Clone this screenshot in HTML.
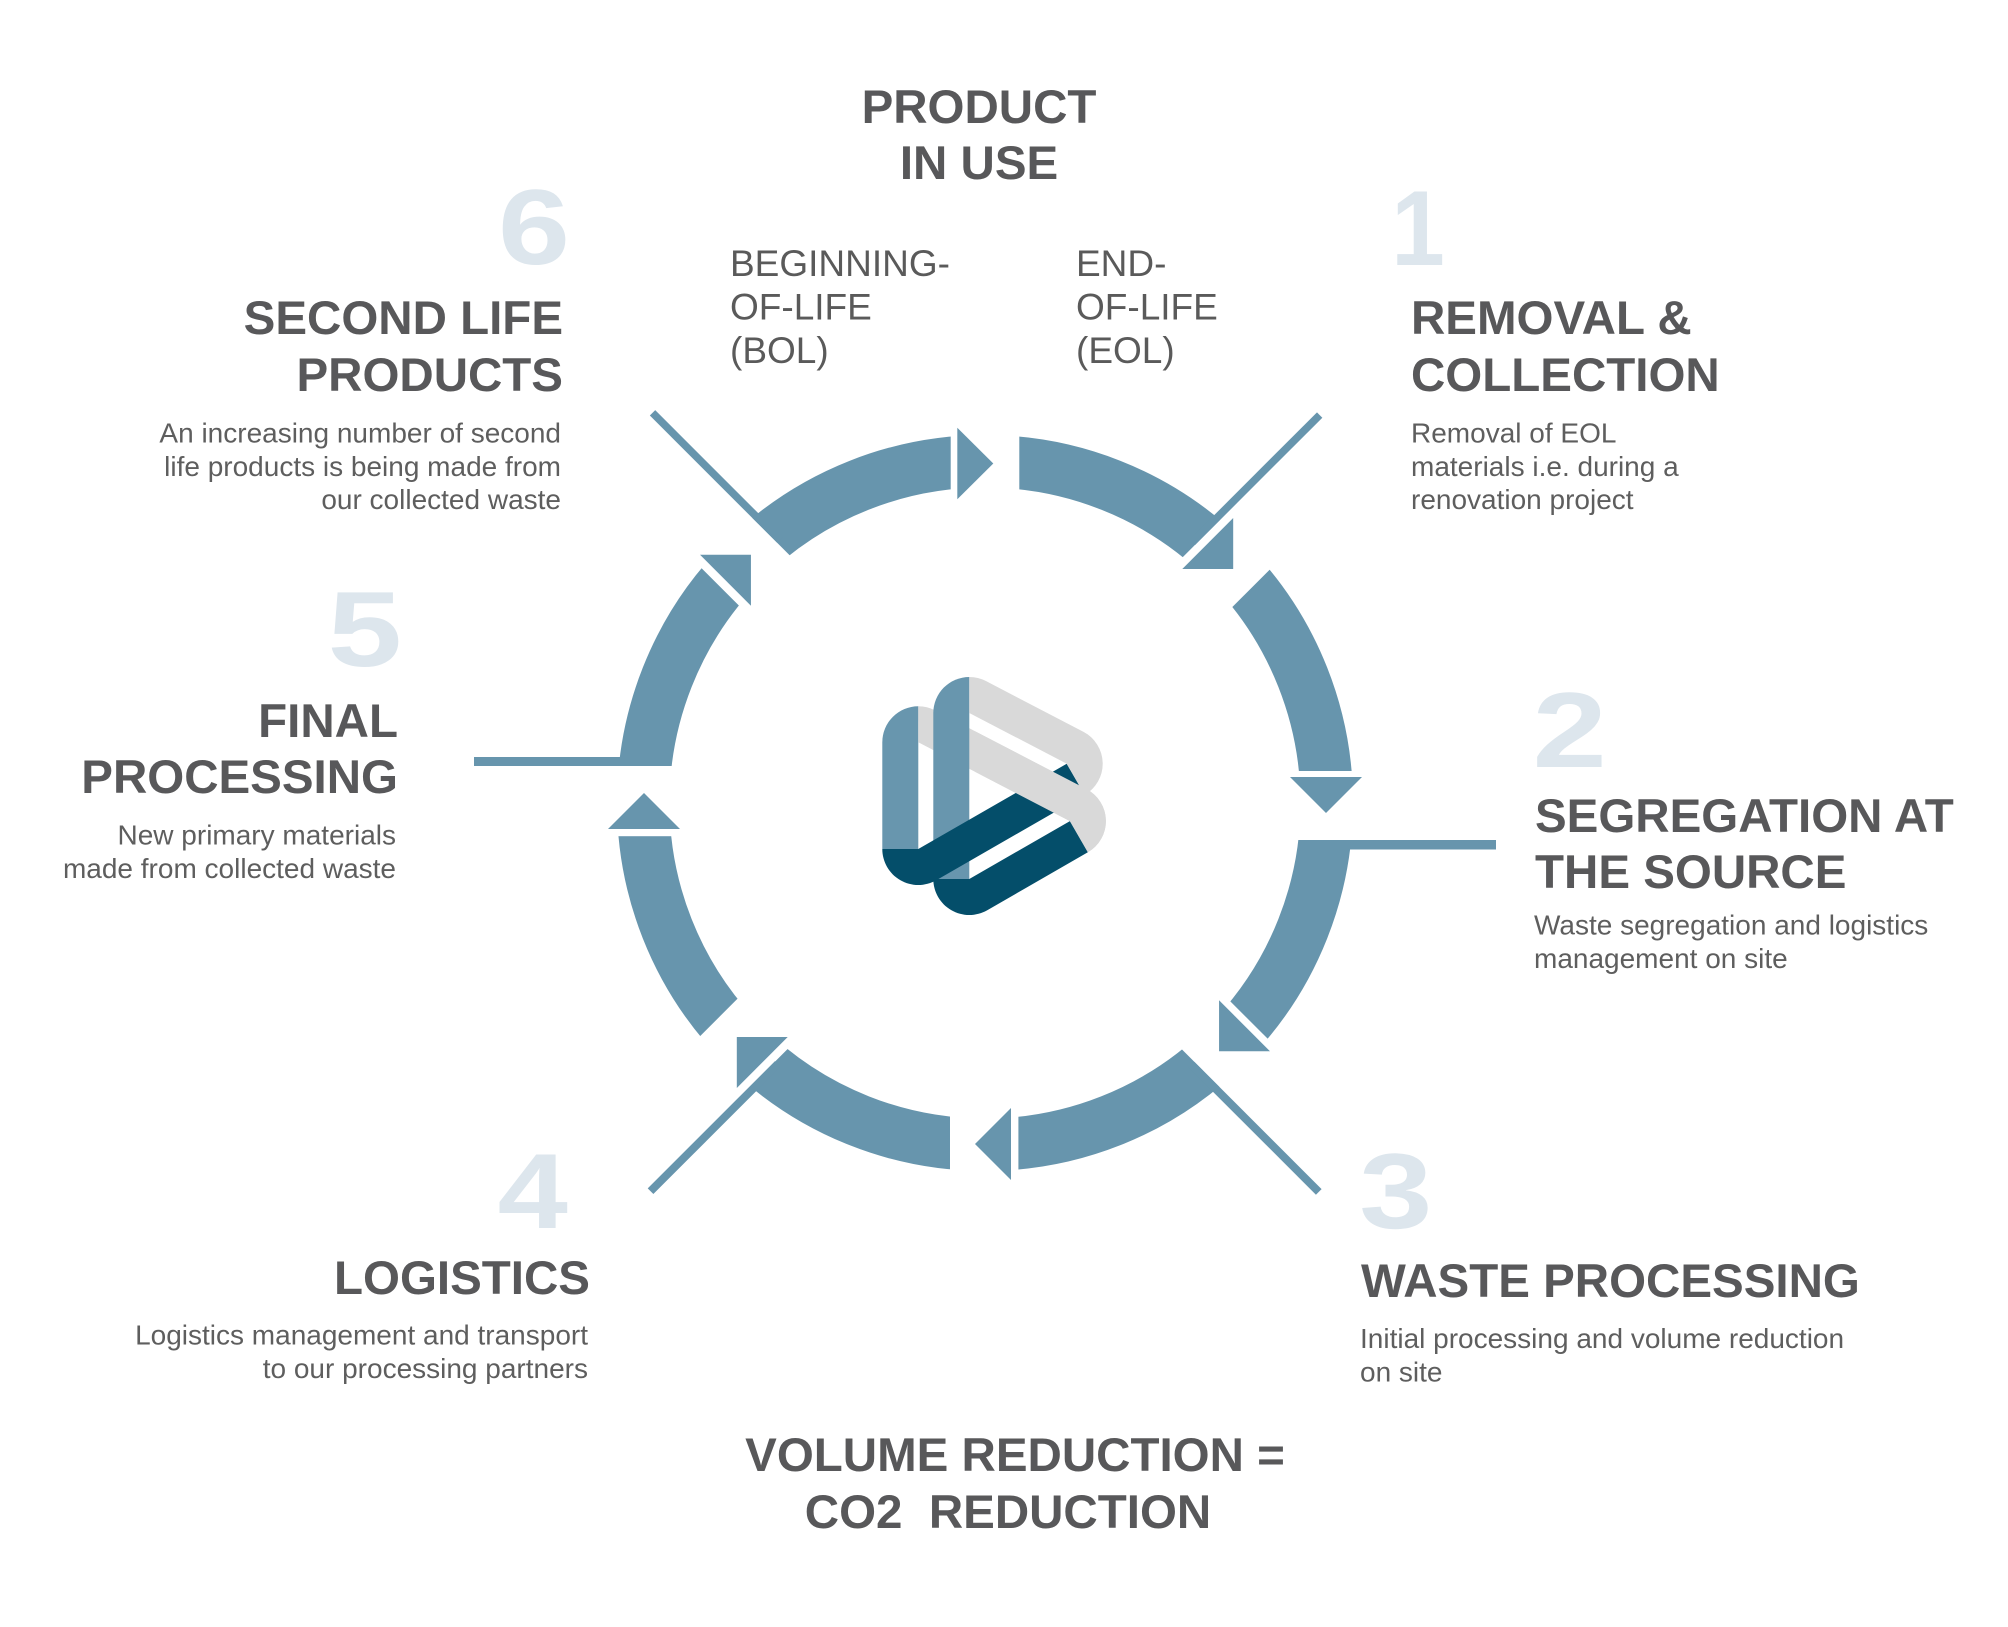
<!DOCTYPE html>
<html>
<head>
<meta charset="utf-8">
<style>
  html,body{margin:0;padding:0;background:#ffffff;}
  svg{display:block;}
  .h{font-family:"Liberation Sans",Arial,sans-serif;font-weight:bold;font-size:47.5px;fill:#58585a;}
  .d{font-family:"Liberation Sans",Arial,sans-serif;font-size:28px;fill:#5e5e5e;}
  .b{font-family:"Liberation Sans",Arial,sans-serif;font-size:37px;fill:#5a5a5a;}
  .n{font-family:"Liberation Sans",Arial,sans-serif;font-weight:bold;font-size:107px;fill:#dde6ed;}
</style>
</head>
<body>
<svg width="2008" height="1627" viewBox="0 0 2008 1627" xmlns="http://www.w3.org/2000/svg">
  <defs>
    <mask id="ringmask" maskUnits="userSpaceOnUse" x="0" y="0" width="2008" height="1627">
      <rect x="0" y="0" width="2008" height="1627" fill="#fff"/>
      <g fill="#000">
        <rect x="950.7" y="400" width="68.6" height="110" transform="rotate(0 985 803)"/>
        <rect x="951" y="400" width="70.3" height="110" transform="rotate(45 985 803)"/>
        <rect x="953" y="400" width="69" height="110" transform="rotate(90 985 803)"/>
        <rect x="951.8" y="400" width="68.2" height="110" transform="rotate(135 985 803)"/>
        <rect x="951.6" y="400" width="68.4" height="110" transform="rotate(180 985 803)"/>
        <rect x="950.6" y="400" width="71" height="110" transform="rotate(225 985 803)"/>
        <rect x="951.8" y="400" width="70.2" height="110" transform="rotate(270 985 803)"/>
        <rect x="950.6" y="400" width="71.4" height="110" transform="rotate(315 985 803)"/>
      </g>
    </mask>
    <clipPath id="cx975"><rect x="975" y="600" width="300" height="400"/></clipPath>
  </defs>

  <!-- ring -->
  <circle cx="985" cy="803" r="341.75" fill="none" stroke="#6795ad" stroke-width="52.5" mask="url(#ringmask)"/>

  <!-- arrowheads -->
  <g fill="#6795ad">
    <polygon points="957.3,427.7 957.3,499.3 993.3,463.5"/>
    <polygon points="959,426 959,498 995,462" transform="rotate(45 985 803)"/>
    <polygon points="959,426 959,498 995,462" transform="rotate(90 985 803)"/>
    <polygon points="959,426 959,498 995,462" transform="rotate(135 985 803)"/>
    <polygon points="959,426 959,498 995,462" transform="rotate(180 985 803)"/>
    <polygon points="959,426 959,498 995,462" transform="rotate(225 985 803)"/>
    <polygon points="959,426 959,498 995,462" transform="rotate(270 985 803)"/>
    <polygon points="959,426 959,498 995,462" transform="rotate(315 985 803)"/>
  </g>

  <!-- connector lines -->
  <g fill="#6795ad">
    <rect x="943.5" y="292" width="7.6" height="180" transform="rotate(45 985 803)"/>
    <rect x="1022" y="292" width="9.5" height="180" transform="rotate(90 985 803)"/>
    <rect x="1020" y="292" width="8" height="180" transform="rotate(135 985 803)"/>
    <rect x="943" y="292" width="8" height="180" transform="rotate(225 985 803)"/>
    <rect x="1022" y="292" width="9" height="180" transform="rotate(270 985 803)"/>
    <rect x="1022" y="292" width="7.6" height="180" transform="rotate(315 985 803)"/>
  </g>

  <!-- center logo (ribbon) -->
  <g>
    <!-- blue T1 -->
    <path fill="#6896ae" d="M 882.3,849 L 882.3,742.3 A 36 36 0 0 1 918.3,706.3 L 918.3,849 Z"/>
    <!-- gray T1 -->
    <path fill="#d9d9d9" d="M 918.3,742.3 L 918.3,706.3 A 36 36 0 0 1 934.91,710.36 L 1086.51,789.16 A 36 36 0 0 1 1087.85,852.31 L 1069.9,821.1 Z"/>
    <!-- blue T2 -->
    <path fill="#6896ae" d="M 933.3,879 L 933.3,713 A 36 36 0 0 1 969.3,677 L 969.3,879 Z"/>
    <!-- dark T1 -->
    <path fill="#044e6a" d="M 1066.7,763.7 L 918.3,849 L 882.3,849 A 36 36 0 0 0 936.25,880.21 L 1084.65,794.91 Z"/>
    <!-- dark T2 -->
    <path fill="#044e6a" d="M 1069.9,821.1 L 969.3,879 L 933.3,879 A 36 36 0 0 0 987.25,910.21 L 1087.85,852.31 Z"/>
    <!-- gray T1 right part on top -->
    <path fill="#d9d9d9" clip-path="url(#cx975)" d="M 918.3,742.3 L 918.3,706.3 A 36 36 0 0 1 934.91,710.36 L 1086.51,789.16 A 36 36 0 0 1 1087.85,852.31 L 1069.9,821.1 Z"/>
    <!-- gray T2 -->
    <path fill="#d9d9d9" d="M 969.3,713 L 969.3,677 A 36 36 0 0 1 985.91,681.06 L 1083.31,731.76 A 36 36 0 0 1 1084.65,794.91 L 1066.7,763.7 Z"/>
  </g>

  <!-- top title -->
  <text class="h" x="979" y="123" text-anchor="middle">PRODUCT</text>
  <text class="h" x="979" y="179" text-anchor="middle">IN USE</text>

  <text class="b" x="730" y="276">BEGINNING-</text>
  <text class="b" x="730" y="319.5">OF-LIFE</text>
  <text class="b" x="730" y="363">(BOL)</text>

  <text class="b" x="1076" y="276">END-</text>
  <text class="b" x="1076" y="319.5">OF-LIFE</text>
  <text class="b" x="1076" y="363">(EOL)</text>

  <!-- numbers -->
  <text class="n" text-anchor="middle" transform="translate(534 264) scale(1.21 1)">6</text>
  <text class="n" text-anchor="middle" transform="translate(1418 265) scale(0.9 1)">1</text>
  <text class="n" text-anchor="middle" transform="translate(364.8 666) scale(1.25 1)">5</text>
  <text class="n" text-anchor="middle" transform="translate(1569.7 767) scale(1.25 1)">2</text>
  <text class="n" text-anchor="middle" transform="translate(532.7 1228) scale(1.18 1)">4</text>
  <text class="n" text-anchor="middle" transform="translate(1395.8 1228) scale(1.23 1)">3</text>

  <!-- 6 second life -->
  <text class="h" x="563" y="334" text-anchor="end">SECOND LIFE</text>
  <text class="h" x="563" y="391" text-anchor="end">PRODUCTS</text>
  <text class="d" x="561" y="442.5" text-anchor="end">An increasing number of second</text>
  <text class="d" x="561" y="476" text-anchor="end">life products is being made from</text>
  <text class="d" x="561" y="509" text-anchor="end">our collected waste</text>

  <!-- 1 removal -->
  <text class="h" x="1411" y="334">REMOVAL &amp;</text>
  <text class="h" x="1411" y="391">COLLECTION</text>
  <text class="d" x="1411" y="442.5">Removal of EOL</text>
  <text class="d" x="1411" y="476">materials i.e. during a</text>
  <text class="d" x="1411" y="509">renovation project</text>

  <!-- 5 final processing -->
  <text class="h" x="398" y="737" text-anchor="end">FINAL</text>
  <text class="h" x="398" y="793" text-anchor="end">PROCESSING</text>
  <text class="d" x="396" y="844.5" text-anchor="end">New primary materials</text>
  <text class="d" x="396" y="878" text-anchor="end">made from collected waste</text>

  <!-- 2 segregation -->
  <text class="h" x="1535" y="832">SEGREGATION AT</text>
  <text class="h" x="1535" y="888">THE SOURCE</text>
  <text class="d" x="1534" y="934.5">Waste segregation and logistics</text>
  <text class="d" x="1534" y="968">management on site</text>

  <!-- 4 logistics -->
  <text class="h" x="590" y="1294" text-anchor="end">LOGISTICS</text>
  <text class="d" x="588" y="1344.5" text-anchor="end">Logistics management and transport</text>
  <text class="d" x="588" y="1378" text-anchor="end">to our processing partners</text>

  <!-- 3 waste processing -->
  <text class="h" x="1361" y="1297">WASTE PROCESSING</text>
  <text class="d" x="1360" y="1348">Initial processing and volume reduction</text>
  <text class="d" x="1360" y="1381.5">on site</text>

  <!-- bottom -->
  <text class="h" x="1015" y="1471" text-anchor="middle">VOLUME REDUCTION =</text>
  <text class="h" x="1008" y="1528" text-anchor="middle">CO2&#160; REDUCTION</text>
</svg>
</body>
</html>
